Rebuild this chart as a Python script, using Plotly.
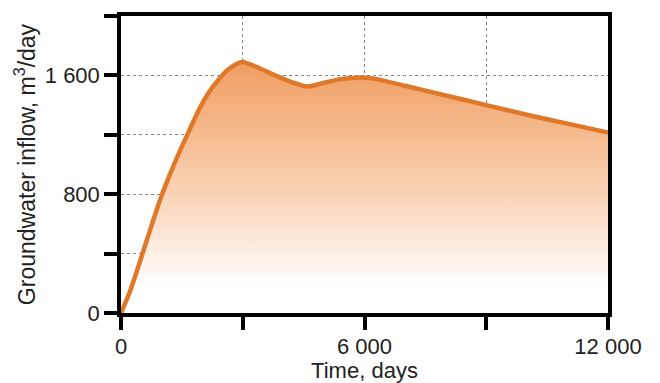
import plotly.graph_objects as go

days = [0, 200, 400, 600, 800, 1000, 1200, 1400, 1600, 1800, 2000, 2200, 2400, 2600, 2800, 3000,
        3400, 3800, 4200, 4600, 5000, 5400, 5800, 6200, 7000, 8000, 9000, 10000, 11000, 12000]
inflow = [0, 130, 290, 460, 630, 790, 930, 1060, 1180, 1300, 1410, 1500, 1570, 1630, 1670, 1690,
          1650, 1600, 1555, 1525, 1550, 1575, 1585, 1580, 1530, 1465, 1400, 1335, 1275, 1215]

x_ticks = [0, 3000, 6000, 9000, 12000]
x_labels = ["0", "", "6 000", "", "12 000"]
y_ticks = [0, 400, 800, 1200, 1600, 2000]
y_labels = ["0", "", "800", "", "1 600", ""]

fig = go.Figure()
fig.add_trace(go.Scatter(
    x=days, y=inflow, mode="lines",
    line=dict(color="#e0782a", width=4.5, shape="spline", smoothing=0.5),
    fill="tozeroy",
    fillgradient=dict(type="vertical",
                      colorscale=[[0, "rgba(255,255,255,1)"], [0.1, "rgba(255,255,255,1)"],
                                  [0.5, "#f9d0b1"], [1, "#f09d60"]],
                      start=0, stop=1700),
    hoverinfo="skip",
))

font = dict(family="Liberation Sans, Arial, sans-serif", size=22, color="#222")
fig.update_layout(
    width=660, height=383,
    margin=dict(l=121, r=52, t=16, b=70),
    paper_bgcolor="white", plot_bgcolor="white",
    showlegend=False,
    font=font,
    xaxis=dict(range=[0, 12000], tickvals=x_ticks, ticktext=x_labels,
               showline=True, linecolor="black", linewidth=3.5, mirror=True,
               ticks="outside", ticklen=13, tickwidth=3.5, tickcolor="black",
               ticklabelstandoff=-2,
               showgrid=True, gridcolor="#888", griddash="dot", gridwidth=1,
               zeroline=False, automargin=False,
               title=dict(text="Time, days", standoff=4, font=dict(size=22))),
    yaxis=dict(range=[0, 2000], tickvals=y_ticks, ticktext=y_labels,
               showline=True, linecolor="black", linewidth=3.5, mirror=True,
               ticks="outside", ticklen=13, tickwidth=3.5, tickcolor="black",
               showgrid=True, gridcolor="#888", griddash="dot", gridwidth=1,
               zeroline=False, automargin=False,
               title=dict(text="Groundwater inflow, m<sup>3</sup>/day", standoff=4, font=dict(size=23))),
)
fig.write_html("out.html", config={"displayModeBar": False},
               post_script="document.body.style.margin='0';")
